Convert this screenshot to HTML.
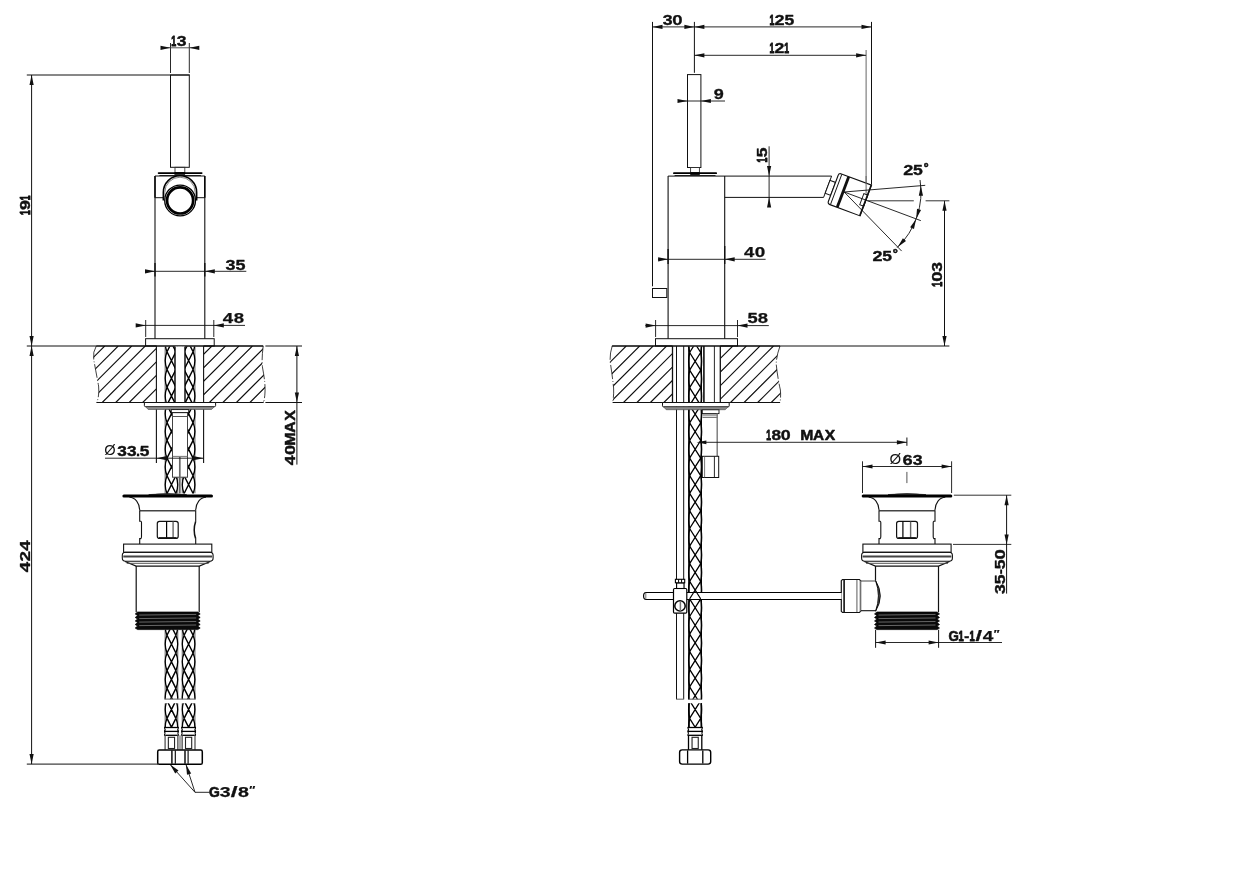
<!DOCTYPE html>
<html lang="it">
<head>
<meta charset="utf-8">
<title>Disegno tecnico</title>
<style>
html,body{margin:0;padding:0;background:#fff;}
body{width:1233px;height:884px;overflow:hidden;}
svg{display:block;}
.t{font-family:"Liberation Sans",Arial,Helvetica,sans-serif;fill:#111;stroke:#111;stroke-width:0.25px;stroke-linejoin:round;}
.tn{font-family:"Liberation Sans",Arial,Helvetica,sans-serif;fill:#111;}
svg{filter:grayscale(1);}
</style>
</head>
<body>
<svg width="1233" height="884" viewBox="0 0 1233 884">
<rect x="0" y="0" width="1233" height="884" fill="#fff"/>
<defs>
<clipPath id="h1"><path d="M96.3 346Q92.5 352 93.8 360Q96 372 98.6 386Q99.6 396 96.6 402.5H156.5V346Z"/></clipPath>
<clipPath id="h2"><path d="M203.6 346H263.2Q261.4 360 262.6 368Q265.6 384 265 392Q264.8 398 263.6 402.5H203.6Z"/></clipPath>
<clipPath id="h3"><rect x="163.6" y="346.5" width="15.7" height="56"/></clipPath>
<clipPath id="h4"><rect x="180.7" y="346.5" width="15.8" height="56"/></clipPath>
<clipPath id="h5"><rect x="163.6" y="409.6" width="15.7" height="84"/></clipPath>
<clipPath id="h6"><rect x="180.7" y="409.6" width="15.8" height="84"/></clipPath>
<clipPath id="h7"><rect x="163.6" y="629.6" width="15.7" height="69.7"/></clipPath>
<clipPath id="h8"><rect x="180.7" y="629.6" width="15.8" height="69.7"/></clipPath>
<clipPath id="h9"><rect x="163.6" y="703.2" width="15.7" height="24.3"/></clipPath>
<clipPath id="h10"><rect x="180.7" y="703.2" width="15.8" height="24.3"/></clipPath>
<clipPath id="h11"><path d="M612.2 346Q609.6 354 610.2 362Q612.4 376 613.6 388Q614 396 612.6 402.5H672.5V346Z"/></clipPath>
<clipPath id="h12"><path d="M720.3 346H780Q776.4 356 776.2 364Q777.6 378 780.4 390Q781 397 780 402.5H720.3Z"/></clipPath>
<clipPath id="h13"><rect x="687.4" y="346.5" width="15.5" height="352.9"/></clipPath>
<clipPath id="h14"><rect x="687.4" y="703.2" width="15.5" height="24.3"/></clipPath>
<clipPath id="h15"><rect x="687.4" y="593" width="15.5" height="6.2"/></clipPath>
</defs>
<line x1="26.8" y1="75" x2="189.6" y2="75" stroke="#111" stroke-width="1"/>
<line x1="26.8" y1="346" x2="263.2" y2="346" stroke="#111" stroke-width="1"/>
<line x1="265.4" y1="346" x2="302" y2="346" stroke="#111" stroke-width="1"/>
<line x1="26.8" y1="764.1" x2="158" y2="764.1" stroke="#111" stroke-width="1"/>
<line x1="31.6" y1="75" x2="31.6" y2="764.1" stroke="#111" stroke-width="1"/>
<polygon points="31.6,75 33.7,85 29.5,85" fill="#111" stroke="none" stroke-width="0"/>
<polygon points="31.6,346 29.5,336 33.7,336" fill="#111" stroke="none" stroke-width="0"/>
<polygon points="31.6,346 33.7,356 29.5,356" fill="#111" stroke="none" stroke-width="0"/>
<polygon points="31.6,764.1 29.5,754.1 33.7,754.1" fill="#111" stroke="none" stroke-width="0"/>
<text class="t" transform="translate(29.6 214.4) rotate(-90)" font-size="14.7" font-weight="bold"><tspan x="-0.54" y="0" textLength="4.8" lengthAdjust="spacingAndGlyphs" stroke-width="1.0" font-size="15.2">1</tspan><tspan x="4.51" y="0" textLength="9.82" lengthAdjust="spacingAndGlyphs" stroke-width="0.4" font-size="15.2">9</tspan><tspan x="14.24" y="0" textLength="4.8" lengthAdjust="spacingAndGlyphs" stroke-width="1.0" font-size="15.2">1</tspan></text>
<text class="t" transform="translate(29.6 571.9) rotate(-90)" font-size="14.7" font-weight="bold"><tspan x="-0.28" y="0" textLength="10.33" lengthAdjust="spacingAndGlyphs" stroke-width="0.34" font-size="15.2">4</tspan><tspan x="10.47" y="0" textLength="10.46" lengthAdjust="spacingAndGlyphs" stroke-width="0.32" font-size="15.2">2</tspan><tspan x="21.07" y="0" textLength="10.33" lengthAdjust="spacingAndGlyphs" stroke-width="0.34" font-size="15.2">4</tspan></text>
<line x1="170.5" y1="43" x2="170.5" y2="73" stroke="#111" stroke-width="0.9"/>
<line x1="189.3" y1="43" x2="189.3" y2="73" stroke="#111" stroke-width="0.9"/>
<line x1="161" y1="47.8" x2="199" y2="47.8" stroke="#444" stroke-width="0.9"/>
<polygon points="170.5,47.8 160.5,49.9 160.5,45.7" fill="#111" stroke="none" stroke-width="0"/>
<polygon points="189.3,47.8 199.3,45.7 199.3,49.9" fill="#111" stroke="none" stroke-width="0"/>
<text class="t" font-size="14.7" font-weight="bold"><tspan x="171.34" y="45.7" textLength="4.92" lengthAdjust="spacingAndGlyphs" stroke-width="1.0">1</tspan><tspan x="176.75" y="45.7" textLength="9.79" lengthAdjust="spacingAndGlyphs" stroke-width="0.36">3</tspan></text>
<rect x="170.5" y="75" width="18.8" height="92.3" fill="none" stroke="#111" stroke-width="1"/>
<rect x="175" y="167.3" width="9.8" height="5.2" fill="none" stroke="#333" stroke-width="0.9"/>
<line x1="158.6" y1="173.1" x2="201.7" y2="173.1" stroke="#000" stroke-width="1.7" stroke-linecap="round"/>
<line x1="159.4" y1="175.5" x2="200.9" y2="175.5" stroke="#111" stroke-width="0.9"/>
<rect x="174.4" y="172.4" width="10.7" height="2.4" fill="#000" stroke="none" stroke-width="0"/>
<line x1="155" y1="176" x2="155" y2="338.7" stroke="#111" stroke-width="1.1"/>
<line x1="204.8" y1="176" x2="204.8" y2="338.7" stroke="#111" stroke-width="1.1"/>
<line x1="155" y1="176" x2="155" y2="197.7" stroke="#000" stroke-width="1.4"/>
<line x1="204.8" y1="176" x2="204.8" y2="197.7" stroke="#000" stroke-width="1.4"/>
<line x1="155" y1="176" x2="204.8" y2="176" stroke="#111" stroke-width="1"/>
<line x1="155" y1="197.7" x2="163.6" y2="197.7" stroke="#111" stroke-width="1"/>
<line x1="196.5" y1="197.7" x2="204.8" y2="197.7" stroke="#111" stroke-width="1"/>
<path d="M163.3 200.4V192.4A16.7 16.7 0 0 1 196.7 192.4V200.4" fill="#fff" stroke="#000" stroke-width="1.5"/>
<path d="M164.8 197V192.4A15.2 15.2 0 0 1 195.2 192.4V197" fill="none" stroke="#333" stroke-width="0.6"/>
<circle cx="180.1" cy="200.45" r="15.4" fill="#fff" stroke="#000" stroke-width="1.3"/>
<circle cx="180.1" cy="200.45" r="13.05" fill="none" stroke="#000" stroke-width="2.7"/>
<line x1="145" y1="271.3" x2="246.3" y2="271.3" stroke="#111" stroke-width="0.9"/>
<polygon points="155,271.3 145,273.4 145,269.2" fill="#111" stroke="none" stroke-width="0"/>
<polygon points="204.8,271.3 214.8,269.2 214.8,273.4" fill="#111" stroke="none" stroke-width="0"/>
<line x1="155" y1="263" x2="155" y2="276.5" stroke="#111" stroke-width="1.4"/>
<line x1="204.8" y1="263" x2="204.8" y2="276.5" stroke="#111" stroke-width="1.4"/>
<text class="t" font-size="14.7" font-weight="bold"><tspan x="225.59" y="269.5" textLength="9.98" lengthAdjust="spacingAndGlyphs" stroke-width="0.34">3</tspan><tspan x="235.52" y="269.5" textLength="9.98" lengthAdjust="spacingAndGlyphs" stroke-width="0.34">5</tspan></text>
<line x1="136" y1="325.4" x2="245" y2="325.4" stroke="#111" stroke-width="0.9"/>
<polygon points="145.7,325.4 135.7,327.5 135.7,323.3" fill="#111" stroke="none" stroke-width="0"/>
<polygon points="213.8,325.4 223.8,323.3 223.8,327.5" fill="#111" stroke="none" stroke-width="0"/>
<line x1="145.7" y1="320" x2="145.7" y2="337" stroke="#111" stroke-width="0.9"/>
<line x1="213.8" y1="320" x2="213.8" y2="337" stroke="#111" stroke-width="0.9"/>
<text class="t" font-size="14.7" font-weight="bold"><tspan x="222.82" y="323.3" textLength="10.44" lengthAdjust="spacingAndGlyphs">4</tspan><tspan x="233.76" y="323.3" textLength="10.32" lengthAdjust="spacingAndGlyphs">8</tspan></text>
<rect x="145.6" y="338.7" width="68.6" height="7.3" fill="none" stroke="#111" stroke-width="1"/>
<path d="M48.2 402.5L104.7 346M61.7 402.5L118.2 346M75.2 402.5L131.7 346M88.7 402.5L145.2 346M102.2 402.5L158.7 346M115.7 402.5L172.2 346M129.2 402.5L185.7 346M142.7 402.5L199.2 346M156.2 402.5L212.7 346" fill="none" stroke="#111" stroke-width="1.1" clip-path="url(#h1)"/>
<path d="M96.3 346Q92.5 352 93.8 360Q96 372 98.6 386Q99.6 396 96.6 402.5" fill="none" stroke="#111" stroke-width="0.8" stroke-dasharray="14 2 1 2"/>
<path d="M155.4 402.5L211.9 346M168.9 402.5L225.4 346M182.4 402.5L238.9 346M195.9 402.5L252.4 346M209.4 402.5L265.9 346M222.9 402.5L279.4 346M236.4 402.5L292.9 346M249.9 402.5L306.4 346M263.4 402.5L319.9 346" fill="none" stroke="#111" stroke-width="1.1" clip-path="url(#h2)"/>
<path d="M263.2 346Q261.4 360 262.6 368Q265.6 384 265 392Q264.8 398 263.6 402.5" fill="none" stroke="#111" stroke-width="0.8" stroke-dasharray="14 2 1 2"/>
<line x1="96.6" y1="402.5" x2="263.6" y2="402.5" stroke="#111" stroke-width="1"/>
<line x1="265.4" y1="402.5" x2="302" y2="402.5" stroke="#111" stroke-width="1"/>
<line x1="96.3" y1="346" x2="156.5" y2="346" stroke="#000" stroke-width="1.2"/>
<line x1="203.6" y1="346" x2="263.2" y2="346" stroke="#000" stroke-width="1.2"/>
<line x1="296.9" y1="346" x2="296.9" y2="464.6" stroke="#111" stroke-width="1"/>
<polygon points="296.9,346 299,356 294.8,356" fill="#111" stroke="none" stroke-width="0"/>
<polygon points="296.9,402.5 294.8,392.5 299,392.5" fill="#111" stroke="none" stroke-width="0"/>
<text class="t" transform="translate(294.9 464.9) rotate(-90)" font-size="14.7" font-weight="bold"><tspan x="-0.26" y="0" textLength="9.81" lengthAdjust="spacingAndGlyphs" stroke-width="0.4" font-size="15.2">4</tspan><tspan x="9.85" y="0" textLength="10.07" lengthAdjust="spacingAndGlyphs" stroke-width="0.37" font-size="15.2">0</tspan><tspan x="19.22" y="0" textLength="13.32" lengthAdjust="spacingAndGlyphs" stroke-width="0.52" font-size="15.2">M</tspan><tspan x="32.19" y="0" textLength="11.29" lengthAdjust="spacingAndGlyphs" stroke-width="0.55" font-size="15.2">A</tspan><tspan x="44.04" y="0" textLength="10.6" lengthAdjust="spacingAndGlyphs" stroke-width="0.53" font-size="15.2">X</tspan></text>
<line x1="156.4" y1="346" x2="156.4" y2="463" stroke="#111" stroke-width="1.1"/>
<line x1="203.6" y1="346" x2="203.6" y2="463" stroke="#111" stroke-width="1.1"/>
<g clip-path="url(#h3)" fill="none" stroke="#000" stroke-width="1.45">
<path d="M165.2 346.5V402.5M177.7 346.5V402.5" stroke="#777" stroke-width="1.2"/>
<path d="M167 334.02L175.9 351.74M175.9 334.02L167 351.74M167 351.74L175.9 369.46M175.9 351.74L167 369.46M167 369.46L175.9 387.18M175.9 369.46L167 387.18M167 387.18L175.9 404.9M175.9 387.18L167 404.9M167 404.9L175.9 422.62M175.9 404.9L167 422.62M167 422.62L175.9 440.34M175.9 422.62L167 440.34M167 440.34L175.9 458.06M175.9 440.34L167 458.06"/>
<path d="M167 334.02Q163.4 342.88 167 351.74M175.9 334.02Q179.5 342.88 175.9 351.74M167 351.74Q163.4 360.6 167 369.46M175.9 351.74Q179.5 360.6 175.9 369.46M167 369.46Q163.4 378.32 167 387.18M175.9 369.46Q179.5 378.32 175.9 387.18M167 387.18Q163.4 396.04 167 404.9M175.9 387.18Q179.5 396.04 175.9 404.9M167 404.9Q163.4 413.76 167 422.62M175.9 404.9Q179.5 413.76 175.9 422.62M167 422.62Q163.4 431.48 167 440.34M175.9 422.62Q179.5 431.48 175.9 440.34M167 440.34Q163.4 449.2 167 458.06M175.9 440.34Q179.5 449.2 175.9 458.06" stroke-width="1.3"/>
</g>
<g clip-path="url(#h4)" fill="none" stroke="#000" stroke-width="1.45">
<path d="M182.3 346.5V402.5M194.9 346.5V402.5" stroke="#777" stroke-width="1.2"/>
<path d="M184.1 334.02L193.1 351.74M193.1 334.02L184.1 351.74M184.1 351.74L193.1 369.46M193.1 351.74L184.1 369.46M184.1 369.46L193.1 387.18M193.1 369.46L184.1 387.18M184.1 387.18L193.1 404.9M193.1 387.18L184.1 404.9M184.1 404.9L193.1 422.62M193.1 404.9L184.1 422.62M184.1 422.62L193.1 440.34M193.1 422.62L184.1 440.34M184.1 440.34L193.1 458.06M193.1 440.34L184.1 458.06"/>
<path d="M184.1 334.02Q180.5 342.88 184.1 351.74M193.1 334.02Q196.7 342.88 193.1 351.74M184.1 351.74Q180.5 360.6 184.1 369.46M193.1 351.74Q196.7 360.6 193.1 369.46M184.1 369.46Q180.5 378.32 184.1 387.18M193.1 369.46Q196.7 378.32 193.1 387.18M184.1 387.18Q180.5 396.04 184.1 404.9M193.1 387.18Q196.7 396.04 193.1 404.9M184.1 404.9Q180.5 413.76 184.1 422.62M193.1 404.9Q196.7 413.76 193.1 422.62M184.1 422.62Q180.5 431.48 184.1 440.34M193.1 422.62Q196.7 431.48 193.1 440.34M184.1 440.34Q180.5 449.2 184.1 458.06M193.1 440.34Q196.7 449.2 193.1 458.06" stroke-width="1.3"/>
</g>
<rect x="175" y="346.5" width="10" height="56" fill="#fff" stroke="none" stroke-width="0"/>
<line x1="175" y1="346.5" x2="175" y2="402.5" stroke="#000" stroke-width="1.4"/>
<line x1="185" y1="346.5" x2="185" y2="402.5" stroke="#000" stroke-width="1.4"/>
<path d="M144.4 402.5H215.6V405.6Q215.6 406.6 214.6 406.6H145.4Q144.4 406.6 144.4 405.6Z" fill="#fff" stroke="#111" stroke-width="1"/>
<polygon points="145.6,406.7 214.4,406.7 211.6,409.5 148.2,409.5" fill="#8a8a8a" stroke="#444" stroke-width="0.6"/>
<g clip-path="url(#h5)" fill="none" stroke="#000" stroke-width="1.45">
<path d="M165.2 409.6V493.6M177.7 409.6V493.6" stroke="#777" stroke-width="1.2"/>
<path d="M167 387.18L175.9 404.9M175.9 387.18L167 404.9M167 404.9L175.9 422.62M175.9 404.9L167 422.62M167 422.62L175.9 440.34M175.9 422.62L167 440.34M167 440.34L175.9 458.06M175.9 440.34L167 458.06M167 458.06L175.9 475.78M175.9 458.06L167 475.78M167 475.78L175.9 493.5M175.9 475.78L167 493.5M167 493.5L175.9 511.22M175.9 493.5L167 511.22M167 511.22L175.9 528.94M175.9 511.22L167 528.94M167 528.94L175.9 546.66M175.9 528.94L167 546.66"/>
<path d="M167 387.18Q163.4 396.04 167 404.9M175.9 387.18Q179.5 396.04 175.9 404.9M167 404.9Q163.4 413.76 167 422.62M175.9 404.9Q179.5 413.76 175.9 422.62M167 422.62Q163.4 431.48 167 440.34M175.9 422.62Q179.5 431.48 175.9 440.34M167 440.34Q163.4 449.2 167 458.06M175.9 440.34Q179.5 449.2 175.9 458.06M167 458.06Q163.4 466.92 167 475.78M175.9 458.06Q179.5 466.92 175.9 475.78M167 475.78Q163.4 484.64 167 493.5M175.9 475.78Q179.5 484.64 175.9 493.5M167 493.5Q163.4 502.36 167 511.22M175.9 493.5Q179.5 502.36 175.9 511.22M167 511.22Q163.4 520.08 167 528.94M175.9 511.22Q179.5 520.08 175.9 528.94M167 528.94Q163.4 537.8 167 546.66M175.9 528.94Q179.5 537.8 175.9 546.66" stroke-width="1.3"/>
</g>
<g clip-path="url(#h6)" fill="none" stroke="#000" stroke-width="1.45">
<path d="M182.3 409.6V493.6M194.9 409.6V493.6" stroke="#777" stroke-width="1.2"/>
<path d="M184.1 387.18L193.1 404.9M193.1 387.18L184.1 404.9M184.1 404.9L193.1 422.62M193.1 404.9L184.1 422.62M184.1 422.62L193.1 440.34M193.1 422.62L184.1 440.34M184.1 440.34L193.1 458.06M193.1 440.34L184.1 458.06M184.1 458.06L193.1 475.78M193.1 458.06L184.1 475.78M184.1 475.78L193.1 493.5M193.1 475.78L184.1 493.5M184.1 493.5L193.1 511.22M193.1 493.5L184.1 511.22M184.1 511.22L193.1 528.94M193.1 511.22L184.1 528.94M184.1 528.94L193.1 546.66M193.1 528.94L184.1 546.66"/>
<path d="M184.1 387.18Q180.5 396.04 184.1 404.9M193.1 387.18Q196.7 396.04 193.1 404.9M184.1 404.9Q180.5 413.76 184.1 422.62M193.1 404.9Q196.7 413.76 193.1 422.62M184.1 422.62Q180.5 431.48 184.1 440.34M193.1 422.62Q196.7 431.48 193.1 440.34M184.1 440.34Q180.5 449.2 184.1 458.06M193.1 440.34Q196.7 449.2 193.1 458.06M184.1 458.06Q180.5 466.92 184.1 475.78M193.1 458.06Q196.7 466.92 193.1 475.78M184.1 475.78Q180.5 484.64 184.1 493.5M193.1 475.78Q196.7 484.64 193.1 493.5M184.1 493.5Q180.5 502.36 184.1 511.22M193.1 493.5Q196.7 502.36 193.1 511.22M184.1 511.22Q180.5 520.08 184.1 528.94M193.1 511.22Q196.7 520.08 193.1 528.94M184.1 528.94Q180.5 537.8 184.1 546.66M193.1 528.94Q196.7 537.8 193.1 546.66" stroke-width="1.3"/>
</g>
<rect x="172.5" y="412.6" width="15" height="64.6" fill="#fff" stroke="#444" stroke-width="1"/>
<rect x="171.3" y="409.6" width="17.4" height="3" fill="#fff" stroke="#111" stroke-width="0.9"/>
<line x1="172.5" y1="416.5" x2="187.5" y2="416.5" stroke="#555" stroke-width="1"/>
<line x1="172.5" y1="456.4" x2="187.5" y2="456.4" stroke="#666" stroke-width="0.9"/>
<line x1="179.8" y1="457" x2="179.8" y2="493.4" stroke="#666" stroke-width="1.7"/>
<line x1="105" y1="458.2" x2="203.6" y2="458.2" stroke="#111" stroke-width="0.9"/>
<polygon points="156.4,458.2 166.9,456.1 166.9,460.3" fill="#111" stroke="none" stroke-width="0"/>
<polygon points="203.6,458.2 193.1,460.3 193.1,456.1" fill="#111" stroke="none" stroke-width="0"/>
<text class="t" font-size="14.7" font-weight="bold"><tspan x="104.29" y="455" textLength="11.41" lengthAdjust="spacingAndGlyphs" font-weight="normal" stroke-width="0" font-size="14.4">&#216;</tspan><tspan x="117.2" y="455.8" textLength="9.62" lengthAdjust="spacingAndGlyphs" stroke-width="0.39">3</tspan><tspan x="126.91" y="455.8" textLength="9.62" lengthAdjust="spacingAndGlyphs" stroke-width="0.39">3</tspan><tspan x="136.03" y="455.8" textLength="4.06" lengthAdjust="spacingAndGlyphs">.</tspan><tspan x="139.67" y="455.8" textLength="9.62" lengthAdjust="spacingAndGlyphs" stroke-width="0.39">5</tspan></text>
<line x1="123.9" y1="495.9" x2="211.5" y2="495.9" stroke="#000" stroke-width="3" stroke-linecap="round"/>
<path d="M148.7 494.6Q167.7 492.4 186.7 494.6Z" fill="#000" stroke="#000" stroke-width="0.5"/>
<path d="M129.4 497.3A10.3 13.2 0 0 1 139.7 510.6" fill="none" stroke="#111" stroke-width="1.1"/>
<path d="M206 497.3A10.3 13.2 0 0 0 195.7 510.6" fill="none" stroke="#111" stroke-width="1.1"/>
<line x1="139.7" y1="510.75" x2="195.7" y2="510.75" stroke="#444" stroke-width="1.3"/>
<path d="M139.7 510.6V521.2H140.9Q141.5 521.4 141.5 522.6V536.6Q141.5 538.2 140.9 538.6H139.7V544" fill="none" stroke="#111" stroke-width="1.1"/>
<path d="M195.7 510.6V521.2" fill="none" stroke="#111" stroke-width="1.1"/>
<path d="M195.7 521.2Q192.7 530 195.7 538.8" fill="none" stroke="#111" stroke-width="1.5"/>
<path d="M195.7 538.8V544" fill="none" stroke="#111" stroke-width="1.1"/>
<rect x="157.3" y="521.3" width="20.9" height="17.2" rx="2.2" fill="none" stroke="#111" stroke-width="1.2"/>
<line x1="166.6" y1="521.6" x2="166.6" y2="538.2" stroke="#000" stroke-width="1.2"/>
<line x1="173.1" y1="521.6" x2="173.1" y2="538.2" stroke="#666" stroke-width="1.4"/>
<line x1="158.9" y1="537.7" x2="176.6" y2="537.7" stroke="#111" stroke-width="1.2"/>
<rect x="123.6" y="544.1" width="88.2" height="8.2" fill="none" stroke="#111" stroke-width="1.1"/>
<rect x="122.3" y="552.3" width="90.8" height="8.9" rx="3.2" fill="none" stroke="#111" stroke-width="1.1"/>
<line x1="123.3" y1="556.5" x2="212.1" y2="556.5" stroke="#444" stroke-width="2"/>
<path d="M125.1 561.6L136.1 566.1H199.3L210.3 561.6" fill="none" stroke="#111" stroke-width="1.1"/>
<line x1="126.7" y1="563.3" x2="208.7" y2="563.3" stroke="#444" stroke-width="0.9"/>
<line x1="136.2" y1="566.1" x2="136.2" y2="612.2" stroke="#111" stroke-width="1.2"/>
<line x1="199.2" y1="566.1" x2="199.2" y2="612.2" stroke="#111" stroke-width="1.2"/>
<path d="M137.6 612L135.2 613.94L137.6 615.52L135.2 617.46L137.6 619.04L135.2 620.98L137.6 622.56L135.2 624.5L137.6 626.08L135.2 628.02L137.6 629.6L197.8 629.6L200.2 628.02L197.8 626.08L200.2 624.5L197.8 622.56L200.2 620.98L197.8 619.04L200.2 617.46L197.8 615.52L200.2 613.94L197.8 612Z" fill="#0a0a0a" stroke="#000" stroke-width="0.7" stroke-linejoin="round"/>
<line x1="139.2" y1="615.05" x2="196.2" y2="614.45" stroke="#858585" stroke-width="0.75"/>
<line x1="139.2" y1="618.57" x2="196.2" y2="617.97" stroke="#858585" stroke-width="0.75"/>
<line x1="139.2" y1="622.09" x2="196.2" y2="621.49" stroke="#858585" stroke-width="0.75"/>
<line x1="139.2" y1="625.61" x2="196.2" y2="625.01" stroke="#858585" stroke-width="0.75"/>
<g clip-path="url(#h7)" fill="none" stroke="#000" stroke-width="1.45">
<path d="M165.2 629.6V699.3M177.7 629.6V699.3" stroke="#777" stroke-width="1.2"/>
<path d="M167 617.54L175.9 635.26M175.9 617.54L167 635.26M167 635.26L175.9 652.98M175.9 635.26L167 652.98M167 652.98L175.9 670.7M175.9 652.98L167 670.7M167 670.7L175.9 688.42M175.9 670.7L167 688.42M167 688.42L175.9 706.14M175.9 688.42L167 706.14M167 706.14L175.9 723.86M175.9 706.14L167 723.86M167 723.86L175.9 741.58M175.9 723.86L167 741.58M167 741.58L175.9 759.3M175.9 741.58L167 759.3"/>
<path d="M167 617.54Q163.4 626.4 167 635.26M175.9 617.54Q179.5 626.4 175.9 635.26M167 635.26Q163.4 644.12 167 652.98M175.9 635.26Q179.5 644.12 175.9 652.98M167 652.98Q163.4 661.84 167 670.7M175.9 652.98Q179.5 661.84 175.9 670.7M167 670.7Q163.4 679.56 167 688.42M175.9 670.7Q179.5 679.56 175.9 688.42M167 688.42Q163.4 697.28 167 706.14M175.9 688.42Q179.5 697.28 175.9 706.14M167 706.14Q163.4 715 167 723.86M175.9 706.14Q179.5 715 175.9 723.86M167 723.86Q163.4 732.72 167 741.58M175.9 723.86Q179.5 732.72 175.9 741.58M167 741.58Q163.4 750.44 167 759.3M175.9 741.58Q179.5 750.44 175.9 759.3" stroke-width="1.3"/>
</g>
<g clip-path="url(#h8)" fill="none" stroke="#000" stroke-width="1.45">
<path d="M182.3 629.6V699.3M194.9 629.6V699.3" stroke="#777" stroke-width="1.2"/>
<path d="M184.1 617.54L193.1 635.26M193.1 617.54L184.1 635.26M184.1 635.26L193.1 652.98M193.1 635.26L184.1 652.98M184.1 652.98L193.1 670.7M193.1 652.98L184.1 670.7M184.1 670.7L193.1 688.42M193.1 670.7L184.1 688.42M184.1 688.42L193.1 706.14M193.1 688.42L184.1 706.14M184.1 706.14L193.1 723.86M193.1 706.14L184.1 723.86M184.1 723.86L193.1 741.58M193.1 723.86L184.1 741.58M184.1 741.58L193.1 759.3M193.1 741.58L184.1 759.3"/>
<path d="M184.1 617.54Q180.5 626.4 184.1 635.26M193.1 617.54Q196.7 626.4 193.1 635.26M184.1 635.26Q180.5 644.12 184.1 652.98M193.1 635.26Q196.7 644.12 193.1 652.98M184.1 652.98Q180.5 661.84 184.1 670.7M193.1 652.98Q196.7 661.84 193.1 670.7M184.1 670.7Q180.5 679.56 184.1 688.42M193.1 670.7Q196.7 679.56 193.1 688.42M184.1 688.42Q180.5 697.28 184.1 706.14M193.1 688.42Q196.7 697.28 193.1 706.14M184.1 706.14Q180.5 715 184.1 723.86M193.1 706.14Q196.7 715 193.1 723.86M184.1 723.86Q180.5 732.72 184.1 741.58M193.1 723.86Q196.7 732.72 193.1 741.58M184.1 741.58Q180.5 750.44 184.1 759.3M193.1 741.58Q196.7 750.44 193.1 759.3" stroke-width="1.3"/>
</g>
<line x1="164.4" y1="699.1" x2="195.7" y2="699.1" stroke="#777" stroke-width="1.2"/>
<g clip-path="url(#h9)" fill="none" stroke="#000" stroke-width="1.45">
<path d="M165.2 703.2V727.5M177.7 703.2V727.5" stroke="#777" stroke-width="1.2"/>
<path d="M167 682.92L175.9 700.64M175.9 682.92L167 700.64M167 700.64L175.9 718.36M175.9 700.64L167 718.36M167 718.36L175.9 736.08M175.9 718.36L167 736.08M167 736.08L175.9 753.8M175.9 736.08L167 753.8M167 753.8L175.9 771.52M175.9 753.8L167 771.52M167 771.52L175.9 789.24M175.9 771.52L167 789.24"/>
<path d="M167 682.92Q163.4 691.78 167 700.64M175.9 682.92Q179.5 691.78 175.9 700.64M167 700.64Q163.4 709.5 167 718.36M175.9 700.64Q179.5 709.5 175.9 718.36M167 718.36Q163.4 727.22 167 736.08M175.9 718.36Q179.5 727.22 175.9 736.08M167 736.08Q163.4 744.94 167 753.8M175.9 736.08Q179.5 744.94 175.9 753.8M167 753.8Q163.4 762.66 167 771.52M175.9 753.8Q179.5 762.66 175.9 771.52M167 771.52Q163.4 780.38 167 789.24M175.9 771.52Q179.5 780.38 175.9 789.24" stroke-width="1.3"/>
</g>
<g clip-path="url(#h10)" fill="none" stroke="#000" stroke-width="1.45">
<path d="M182.3 703.2V727.5M194.9 703.2V727.5" stroke="#777" stroke-width="1.2"/>
<path d="M184.1 682.92L193.1 700.64M193.1 682.92L184.1 700.64M184.1 700.64L193.1 718.36M193.1 700.64L184.1 718.36M184.1 718.36L193.1 736.08M193.1 718.36L184.1 736.08M184.1 736.08L193.1 753.8M193.1 736.08L184.1 753.8M184.1 753.8L193.1 771.52M193.1 753.8L184.1 771.52M184.1 771.52L193.1 789.24M193.1 771.52L184.1 789.24"/>
<path d="M184.1 682.92Q180.5 691.78 184.1 700.64M193.1 682.92Q196.7 691.78 193.1 700.64M184.1 700.64Q180.5 709.5 184.1 718.36M193.1 700.64Q196.7 709.5 193.1 718.36M184.1 718.36Q180.5 727.22 184.1 736.08M193.1 718.36Q196.7 727.22 193.1 736.08M184.1 736.08Q180.5 744.94 184.1 753.8M193.1 736.08Q196.7 744.94 193.1 753.8M184.1 753.8Q180.5 762.66 184.1 771.52M193.1 753.8Q196.7 762.66 193.1 771.52M184.1 771.52Q180.5 780.38 184.1 789.24M193.1 771.52Q196.7 780.38 193.1 789.24" stroke-width="1.3"/>
</g>
<line x1="164.1" y1="727.5" x2="178.8" y2="727.5" stroke="#000" stroke-width="1.3"/>
<line x1="164.1" y1="731.4" x2="178.8" y2="731.4" stroke="#000" stroke-width="1.3"/>
<line x1="164.1" y1="735.3" x2="178.8" y2="735.3" stroke="#000" stroke-width="1.3"/>
<path d="M164.4 727.5Q165.8 729.45 164.4 731.4M178.5 727.5Q177.1 729.45 178.5 731.4" fill="none" stroke="#000" stroke-width="1.1"/>
<path d="M164.4 731.4Q165.8 733.35 164.4 735.3M178.5 731.4Q177.1 733.35 178.5 735.3" fill="none" stroke="#000" stroke-width="1.1"/>
<line x1="165.1" y1="735.3" x2="165.1" y2="749.8" stroke="#555" stroke-width="1.3"/>
<line x1="177.8" y1="735.3" x2="177.8" y2="749.8" stroke="#555" stroke-width="1.3"/>
<rect x="168.35" y="737.3" width="6.2" height="11.2" fill="none" stroke="#222" stroke-width="1.1"/>
<line x1="181.2" y1="727.5" x2="196" y2="727.5" stroke="#000" stroke-width="1.3"/>
<line x1="181.2" y1="731.4" x2="196" y2="731.4" stroke="#000" stroke-width="1.3"/>
<line x1="181.2" y1="735.3" x2="196" y2="735.3" stroke="#000" stroke-width="1.3"/>
<path d="M181.5 727.5Q182.9 729.45 181.5 731.4M195.7 727.5Q194.3 729.45 195.7 731.4" fill="none" stroke="#000" stroke-width="1.1"/>
<path d="M181.5 731.4Q182.9 733.35 181.5 735.3M195.7 731.4Q194.3 733.35 195.7 735.3" fill="none" stroke="#000" stroke-width="1.1"/>
<line x1="182.2" y1="735.3" x2="182.2" y2="749.8" stroke="#555" stroke-width="1.3"/>
<line x1="195" y1="735.3" x2="195" y2="749.8" stroke="#555" stroke-width="1.3"/>
<rect x="185.5" y="737.3" width="6.2" height="11.2" fill="none" stroke="#222" stroke-width="1.1"/>
<line x1="179.2" y1="735.3" x2="179.2" y2="749.8" stroke="#777" stroke-width="0.9"/>
<line x1="180.8" y1="735.3" x2="180.8" y2="749.8" stroke="#777" stroke-width="0.9"/>
<rect x="157.7" y="750.1" width="44.6" height="14.2" rx="1.6" fill="#fff" stroke="#000" stroke-width="1.5"/>
<line x1="171.9" y1="750.6" x2="171.9" y2="763.8" stroke="#000" stroke-width="1.4"/>
<line x1="175.3" y1="750.6" x2="175.3" y2="763.8" stroke="#000" stroke-width="1.1"/>
<line x1="185" y1="750.6" x2="185" y2="763.8" stroke="#000" stroke-width="1.4"/>
<line x1="188.1" y1="750.6" x2="188.1" y2="763.8" stroke="#000" stroke-width="1.1"/>
<line x1="195" y1="792.3" x2="170.2" y2="764.6" stroke="#111" stroke-width="0.9"/>
<line x1="195" y1="792.3" x2="186" y2="764.6" stroke="#111" stroke-width="0.9"/>
<polygon points="170.2,764.6 178.51,770.58 175.23,773.52" fill="#111" stroke="none" stroke-width="0"/>
<polygon points="186,764.6 191.18,773.43 187,774.79" fill="#111" stroke="none" stroke-width="0"/>
<line x1="195" y1="792.3" x2="209.6" y2="792.3" stroke="#111" stroke-width="0.9"/>
<text class="t" font-size="14.7" font-weight="bold"><tspan x="209.03" y="797.1" textLength="10.8" lengthAdjust="spacingAndGlyphs" stroke-width="0.64">G</tspan><tspan x="219.78" y="797.1" textLength="10.81" lengthAdjust="spacingAndGlyphs">3</tspan><tspan x="230.89" y="797.1" textLength="6.86" lengthAdjust="spacingAndGlyphs">/</tspan><tspan x="238.14" y="797.1" textLength="10.9" lengthAdjust="spacingAndGlyphs">8</tspan><tspan x="249.15" y="794.16" textLength="6.07" lengthAdjust="spacingAndGlyphs" font-size="10.73">&#8243;</tspan></text>
<line x1="652.5" y1="21.9" x2="652.5" y2="286.3" stroke="#111" stroke-width="1"/>
<line x1="694.4" y1="21.9" x2="694.4" y2="72.8" stroke="#111" stroke-width="1"/>
<line x1="871.5" y1="21.9" x2="871.5" y2="184.6" stroke="#111" stroke-width="1"/>
<line x1="866.1" y1="50" x2="866.1" y2="193.8" stroke="#666" stroke-width="1"/>
<line x1="652.5" y1="26.9" x2="871.5" y2="26.9" stroke="#111" stroke-width="0.9"/>
<polygon points="652.5,26.9 662.5,24.8 662.5,29" fill="#111" stroke="none" stroke-width="0"/>
<polygon points="694.4,26.9 684.4,29 684.4,24.8" fill="#111" stroke="none" stroke-width="0"/>
<polygon points="694.4,26.9 704.4,24.8 704.4,29" fill="#111" stroke="none" stroke-width="0"/>
<polygon points="871.5,26.9 861.5,29 861.5,24.8" fill="#111" stroke="none" stroke-width="0"/>
<text class="t" font-size="14.7" font-weight="bold"><tspan x="662.69" y="24.6" textLength="9.88" lengthAdjust="spacingAndGlyphs" stroke-width="0.35">3</tspan><tspan x="672.33" y="24.6" textLength="10.34" lengthAdjust="spacingAndGlyphs">0</tspan></text>
<text class="t" font-size="14.7" font-weight="bold"><tspan x="769.44" y="24.6" textLength="4.9" lengthAdjust="spacingAndGlyphs" stroke-width="1.0">1</tspan><tspan x="774.6" y="24.6" textLength="10.08" lengthAdjust="spacingAndGlyphs" stroke-width="0.32">2</tspan><tspan x="784.54" y="24.6" textLength="9.76" lengthAdjust="spacingAndGlyphs" stroke-width="0.37">5</tspan></text>
<line x1="694.4" y1="55.3" x2="866.1" y2="55.3" stroke="#111" stroke-width="0.9"/>
<polygon points="694.4,55.3 704.4,53.2 704.4,57.4" fill="#111" stroke="none" stroke-width="0"/>
<polygon points="866.1,55.3 856.1,57.4 856.1,53.2" fill="#111" stroke="none" stroke-width="0"/>
<text class="t" font-size="14.7" font-weight="bold"><tspan x="769.46" y="53" textLength="4.8" lengthAdjust="spacingAndGlyphs" stroke-width="1.0">1</tspan><tspan x="774.51" y="53" textLength="9.88" lengthAdjust="spacingAndGlyphs" stroke-width="0.35">2</tspan><tspan x="784.24" y="53" textLength="4.8" lengthAdjust="spacingAndGlyphs" stroke-width="1.0">1</tspan></text>
<rect x="687.5" y="74.6" width="13.4" height="92.9" fill="none" stroke="#111" stroke-width="1"/>
<rect x="690.6" y="167.5" width="8.8" height="5.1" fill="none" stroke="#333" stroke-width="0.9"/>
<line x1="673.9" y1="173.2" x2="716.2" y2="173.2" stroke="#000" stroke-width="1.7" stroke-linecap="round"/>
<line x1="674.6" y1="175.5" x2="715.5" y2="175.5" stroke="#111" stroke-width="0.9"/>
<rect x="690.2" y="172.5" width="9.6" height="2.4" fill="#000" stroke="none" stroke-width="0"/>
<line x1="678.1" y1="101" x2="725" y2="101" stroke="#111" stroke-width="0.9"/>
<polygon points="687.5,101 677.5,103.1 677.5,98.9" fill="#111" stroke="none" stroke-width="0"/>
<polygon points="700.9,101 710.9,98.9 710.9,103.1" fill="#111" stroke="none" stroke-width="0"/>
<text class="t" font-size="14.7" font-weight="bold"><tspan x="713.77" y="98.9" textLength="10" lengthAdjust="spacingAndGlyphs" stroke-width="0.33">9</tspan></text>
<line x1="668.1" y1="176.1" x2="668.1" y2="338.7" stroke="#111" stroke-width="1.1"/>
<line x1="724.7" y1="176.1" x2="724.7" y2="338.7" stroke="#111" stroke-width="1.1"/>
<line x1="668.1" y1="176.1" x2="831.6" y2="176.1" stroke="#111" stroke-width="1"/>
<line x1="724.7" y1="197.4" x2="823.6" y2="197.4" stroke="#111" stroke-width="1"/>
<line x1="831.6" y1="176.1" x2="823.6" y2="197.4" stroke="#111" stroke-width="1"/>
<line x1="769.1" y1="146.3" x2="769.1" y2="207" stroke="#111" stroke-width="0.9"/>
<polygon points="769.1,176.1 767,166.1 771.2,166.1" fill="#111" stroke="none" stroke-width="0"/>
<polygon points="769.1,197.4 771.2,207.4 767,207.4" fill="#111" stroke="none" stroke-width="0"/>
<text class="t" transform="translate(766.5 161.9) rotate(-90)" font-size="14.7" font-weight="bold"><tspan x="-0.55" y="0" textLength="4.85" lengthAdjust="spacingAndGlyphs" stroke-width="1.0" font-size="15.2">1</tspan><tspan x="4.64" y="0" textLength="9.65" lengthAdjust="spacingAndGlyphs" stroke-width="0.42" font-size="15.2">5</tspan></text>
<line x1="658.1" y1="259.3" x2="765.6" y2="259.3" stroke="#111" stroke-width="0.9"/>
<polygon points="668.1,259.3 658.1,261.4 658.1,257.2" fill="#111" stroke="none" stroke-width="0"/>
<polygon points="724.7,259.3 734.7,257.2 734.7,261.4" fill="#111" stroke="none" stroke-width="0"/>
<line x1="668.1" y1="249" x2="668.1" y2="264" stroke="#111" stroke-width="1.4"/>
<line x1="724.7" y1="246" x2="724.7" y2="264" stroke="#111" stroke-width="1.4"/>
<text class="t" font-size="14.7" font-weight="bold"><tspan x="744.12" y="257.1" textLength="10.24" lengthAdjust="spacingAndGlyphs">4</tspan><tspan x="754.68" y="257.1" textLength="10.5" lengthAdjust="spacingAndGlyphs">0</tspan></text>
<rect x="652.5" y="288.5" width="14.3" height="9" fill="none" stroke="#111" stroke-width="1"/>
<line x1="645.3" y1="325.6" x2="768.8" y2="325.6" stroke="#111" stroke-width="0.9"/>
<polygon points="655.6,325.6 645.6,327.7 645.6,323.5" fill="#111" stroke="none" stroke-width="0"/>
<polygon points="737.5,325.6 747.5,323.5 747.5,327.7" fill="#111" stroke="none" stroke-width="0"/>
<line x1="655.6" y1="320" x2="655.6" y2="337" stroke="#111" stroke-width="0.9"/>
<line x1="737.5" y1="320" x2="737.5" y2="337" stroke="#111" stroke-width="0.9"/>
<text class="t" font-size="14.7" font-weight="bold"><tspan x="747.53" y="323.3" textLength="10.19" lengthAdjust="spacingAndGlyphs" stroke-width="0.31">5</tspan><tspan x="757.8" y="323.3" textLength="10.28" lengthAdjust="spacingAndGlyphs">8</tspan></text>
<rect x="655.5" y="338.7" width="82" height="7.3" fill="none" stroke="#111" stroke-width="1"/>
<line x1="611.9" y1="346" x2="949.4" y2="346" stroke="#111" stroke-width="1"/>
<line x1="944.5" y1="200.8" x2="944.5" y2="346" stroke="#111" stroke-width="1"/>
<polygon points="944.5,200.8 946.6,210.8 942.4,210.8" fill="#111" stroke="none" stroke-width="0"/>
<polygon points="944.5,346 942.4,336 946.6,336" fill="#111" stroke="none" stroke-width="0"/>
<text class="t" transform="translate(942.1 286.3) rotate(-90)" font-size="14.7" font-weight="bold"><tspan x="-0.56" y="0" textLength="4.9" lengthAdjust="spacingAndGlyphs" stroke-width="1.0" font-size="15.2">1</tspan><tspan x="4.5" y="0" textLength="10.21" lengthAdjust="spacingAndGlyphs" stroke-width="0.35" font-size="15.2">0</tspan><tspan x="14.68" y="0" textLength="9.76" lengthAdjust="spacingAndGlyphs" stroke-width="0.41" font-size="15.2">3</tspan></text>
<line x1="867.5" y1="200.8" x2="913.8" y2="200.8" stroke="#333" stroke-width="1"/>
<line x1="925.6" y1="200.8" x2="949.4" y2="200.8" stroke="#333" stroke-width="1"/>
<g transform="translate(839 173) rotate(20.5)">
<rect x="-5.9" y="10" width="5.9" height="13.8" fill="#fff" stroke="#111" stroke-width="1"/>
<path d="M2.6 0H34.8V32.8H2.6Q0 32.8 0 30.2V2.6Q0 0 2.6 0Z" fill="#fff" stroke="#111" stroke-width="1.1"/>
<line x1="3.1" y1="0.3" x2="3.1" y2="32.5" stroke="#111" stroke-width="0.9"/>
<rect x="9" y="0" width="2.8" height="32.8" fill="#111"/>
<rect x="30.5" y="10.6" width="4.3" height="11.8" fill="none" stroke="#111" stroke-width="0.9"/>
<line x1="34.4" y1="0" x2="34.4" y2="32.8" stroke="#111" stroke-width="1.5"/>
</g>
<line x1="866.1" y1="176" x2="866.1" y2="193.8" stroke="#666" stroke-width="1"/>
<line x1="844.2" y1="192" x2="925.23" y2="185.34" stroke="#111" stroke-width="0.9"/>
<line x1="844.2" y1="192" x2="920.82" y2="220.65" stroke="#111" stroke-width="0.9"/>
<line x1="844.2" y1="192" x2="901.65" y2="251.07" stroke="#111" stroke-width="0.9"/>
<path d="M920.05 179.99A76.8 76.8 0 0 1 897.16 247.62" fill="none" stroke="#111" stroke-width="0.9"/>
<polygon points="920.74,185.71 923.02,195.67 918.82,195.74" fill="#111" stroke="none" stroke-width="0"/>
<polygon points="916.14,218.9 917.02,208.72 921.04,209.93" fill="#111" stroke="none" stroke-width="0"/>
<polygon points="916.14,218.9 913.96,228.88 910.13,227.16" fill="#111" stroke="none" stroke-width="0"/>
<polygon points="897.74,247.06 902.9,238.24 906.01,241.05" fill="#111" stroke="none" stroke-width="0"/>
<text class="t" font-size="14.7" font-weight="bold"><tspan x="903.16" y="175.2" textLength="10.1" lengthAdjust="spacingAndGlyphs" stroke-width="0.32">2</tspan><tspan x="913.12" y="175.2" textLength="9.77" lengthAdjust="spacingAndGlyphs" stroke-width="0.37">5</tspan><tspan x="923.87" y="172.2" textLength="4.86" lengthAdjust="spacingAndGlyphs" stroke-width="0.65" font-size="13">&#176;</tspan></text>
<text class="t" font-size="14.7" font-weight="bold"><tspan x="872.47" y="261.4" textLength="10.04" lengthAdjust="spacingAndGlyphs" stroke-width="0.33">2</tspan><tspan x="882.37" y="261.4" textLength="9.72" lengthAdjust="spacingAndGlyphs" stroke-width="0.37">5</tspan><tspan x="892.64" y="258" textLength="5.11" lengthAdjust="spacingAndGlyphs" stroke-width="0.6" font-size="13">&#176;</tspan></text>
<path d="M569.7 402.5L626.2 346M583.15 402.5L639.65 346M596.6 402.5L653.1 346M610.05 402.5L666.55 346M623.5 402.5L680 346M636.95 402.5L693.45 346M650.4 402.5L706.9 346M663.85 402.5L720.35 346M677.3 402.5L733.8 346" fill="none" stroke="#111" stroke-width="1.1" clip-path="url(#h11)"/>
<path d="M612.2 346Q609.6 354 610.2 362Q612.4 376 613.6 388Q614 396 612.6 402.5" fill="none" stroke="#111" stroke-width="0.8" stroke-dasharray="14 2 1 2"/>
<path d="M676.3 402.5L732.8 346M689.86 402.5L746.36 346M703.42 402.5L759.92 346M716.98 402.5L773.48 346M730.54 402.5L787.04 346M744.1 402.5L800.6 346M757.66 402.5L814.16 346M771.22 402.5L827.72 346M784.78 402.5L841.28 346" fill="none" stroke="#111" stroke-width="1.1" clip-path="url(#h12)"/>
<path d="M780 346Q776.4 356 776.2 364Q777.6 378 780.4 390Q781 397 780 402.5" fill="none" stroke="#111" stroke-width="0.8" stroke-dasharray="14 2 1 2"/>
<line x1="612.6" y1="402.5" x2="780" y2="402.5" stroke="#111" stroke-width="1"/>
<line x1="612.2" y1="346" x2="672.5" y2="346" stroke="#000" stroke-width="1.2"/>
<line x1="720.3" y1="346" x2="780" y2="346" stroke="#000" stroke-width="1.2"/>
<line x1="672.5" y1="346" x2="672.5" y2="402.5" stroke="#111" stroke-width="1.3"/>
<line x1="720.3" y1="346" x2="720.3" y2="402.5" stroke="#111" stroke-width="1.3"/>
<line x1="714.4" y1="346" x2="714.4" y2="402.5" stroke="#111" stroke-width="0.9"/>
<line x1="703.9" y1="346" x2="703.9" y2="402.5" stroke="#111" stroke-width="1.6"/>
<line x1="676.5" y1="346" x2="676.5" y2="699.4" stroke="#111" stroke-width="1"/>
<line x1="683.7" y1="346" x2="683.7" y2="699.4" stroke="#111" stroke-width="1"/>
<line x1="676.5" y1="699.2" x2="683.7" y2="699.2" stroke="#777" stroke-width="1.2"/>
<g clip-path="url(#h13)" fill="none" stroke="#000" stroke-width="1.3">
<path d="M689 346.5V699.4M701.3 346.5V699.4" stroke="#777" stroke-width="1.2"/>
<path d="M689.6 334.9L700.7 352.5M700.7 334.9L689.6 352.5M689.6 352.5L700.7 370.1M700.7 352.5L689.6 370.1M689.6 370.1L700.7 387.7M700.7 370.1L689.6 387.7M689.6 387.7L700.7 405.3M700.7 387.7L689.6 405.3M689.6 405.3L700.7 422.9M700.7 405.3L689.6 422.9M689.6 422.9L700.7 440.5M700.7 422.9L689.6 440.5M689.6 440.5L700.7 458.1M700.7 440.5L689.6 458.1M689.6 458.1L700.7 475.7M700.7 458.1L689.6 475.7M689.6 475.7L700.7 493.3M700.7 475.7L689.6 493.3M689.6 493.3L700.7 510.9M700.7 493.3L689.6 510.9M689.6 510.9L700.7 528.5M700.7 510.9L689.6 528.5M689.6 528.5L700.7 546.1M700.7 528.5L689.6 546.1M689.6 546.1L700.7 563.7M700.7 546.1L689.6 563.7M689.6 563.7L700.7 581.3M700.7 563.7L689.6 581.3M689.6 581.3L700.7 598.9M700.7 581.3L689.6 598.9M689.6 598.9L700.7 616.5M700.7 598.9L689.6 616.5M689.6 616.5L700.7 634.1M700.7 616.5L689.6 634.1M689.6 634.1L700.7 651.7M700.7 634.1L689.6 651.7M689.6 651.7L700.7 669.3M700.7 651.7L689.6 669.3M689.6 669.3L700.7 686.9M700.7 669.3L689.6 686.9M689.6 686.9L700.7 704.5M700.7 686.9L689.6 704.5M689.6 704.5L700.7 722.1M700.7 704.5L689.6 722.1M689.6 722.1L700.7 739.7M700.7 722.1L689.6 739.7M689.6 739.7L700.7 757.3M700.7 739.7L689.6 757.3"/>
<path d="M689.6 334.9Q687.8 343.7 689.6 352.5M700.7 334.9Q702.5 343.7 700.7 352.5M689.6 352.5Q687.8 361.3 689.6 370.1M700.7 352.5Q702.5 361.3 700.7 370.1M689.6 370.1Q687.8 378.9 689.6 387.7M700.7 370.1Q702.5 378.9 700.7 387.7M689.6 387.7Q687.8 396.5 689.6 405.3M700.7 387.7Q702.5 396.5 700.7 405.3M689.6 405.3Q687.8 414.1 689.6 422.9M700.7 405.3Q702.5 414.1 700.7 422.9M689.6 422.9Q687.8 431.7 689.6 440.5M700.7 422.9Q702.5 431.7 700.7 440.5M689.6 440.5Q687.8 449.3 689.6 458.1M700.7 440.5Q702.5 449.3 700.7 458.1M689.6 458.1Q687.8 466.9 689.6 475.7M700.7 458.1Q702.5 466.9 700.7 475.7M689.6 475.7Q687.8 484.5 689.6 493.3M700.7 475.7Q702.5 484.5 700.7 493.3M689.6 493.3Q687.8 502.1 689.6 510.9M700.7 493.3Q702.5 502.1 700.7 510.9M689.6 510.9Q687.8 519.7 689.6 528.5M700.7 510.9Q702.5 519.7 700.7 528.5M689.6 528.5Q687.8 537.3 689.6 546.1M700.7 528.5Q702.5 537.3 700.7 546.1M689.6 546.1Q687.8 554.9 689.6 563.7M700.7 546.1Q702.5 554.9 700.7 563.7M689.6 563.7Q687.8 572.5 689.6 581.3M700.7 563.7Q702.5 572.5 700.7 581.3M689.6 581.3Q687.8 590.1 689.6 598.9M700.7 581.3Q702.5 590.1 700.7 598.9M689.6 598.9Q687.8 607.7 689.6 616.5M700.7 598.9Q702.5 607.7 700.7 616.5M689.6 616.5Q687.8 625.3 689.6 634.1M700.7 616.5Q702.5 625.3 700.7 634.1M689.6 634.1Q687.8 642.9 689.6 651.7M700.7 634.1Q702.5 642.9 700.7 651.7M689.6 651.7Q687.8 660.5 689.6 669.3M700.7 651.7Q702.5 660.5 700.7 669.3M689.6 669.3Q687.8 678.1 689.6 686.9M700.7 669.3Q702.5 678.1 700.7 686.9M689.6 686.9Q687.8 695.7 689.6 704.5M700.7 686.9Q702.5 695.7 700.7 704.5M689.6 704.5Q687.8 713.3 689.6 722.1M700.7 704.5Q702.5 713.3 700.7 722.1M689.6 722.1Q687.8 730.9 689.6 739.7M700.7 722.1Q702.5 730.9 700.7 739.7M689.6 739.7Q687.8 748.5 689.6 757.3M700.7 739.7Q702.5 748.5 700.7 757.3" stroke-width="1.5"/>
</g>
<line x1="688.2" y1="699.2" x2="702.1" y2="699.2" stroke="#777" stroke-width="1.2"/>
<line x1="688.8" y1="346.5" x2="688.8" y2="699.2" stroke="#000" stroke-width="1"/>
<line x1="701.5" y1="346.5" x2="701.5" y2="699.2" stroke="#000" stroke-width="1"/>
<g clip-path="url(#h14)" fill="none" stroke="#000" stroke-width="1.3">
<path d="M689 703.2V727.5M701.3 703.2V727.5" stroke="#777" stroke-width="1.2"/>
<path d="M689.6 682.92L700.7 700.64M700.7 682.92L689.6 700.64M689.6 700.64L700.7 718.36M700.7 700.64L689.6 718.36M689.6 718.36L700.7 736.08M700.7 718.36L689.6 736.08M689.6 736.08L700.7 753.8M700.7 736.08L689.6 753.8M689.6 753.8L700.7 771.52M700.7 753.8L689.6 771.52M689.6 771.52L700.7 789.24M700.7 771.52L689.6 789.24"/>
<path d="M689.6 682.92Q687.8 691.78 689.6 700.64M700.7 682.92Q702.5 691.78 700.7 700.64M689.6 700.64Q687.8 709.5 689.6 718.36M700.7 700.64Q702.5 709.5 700.7 718.36M689.6 718.36Q687.8 727.22 689.6 736.08M700.7 718.36Q702.5 727.22 700.7 736.08M689.6 736.08Q687.8 744.94 689.6 753.8M700.7 736.08Q702.5 744.94 700.7 753.8M689.6 753.8Q687.8 762.66 689.6 771.52M700.7 753.8Q702.5 762.66 700.7 771.52M689.6 771.52Q687.8 780.38 689.6 789.24M700.7 771.52Q702.5 780.38 700.7 789.24" stroke-width="1.5"/>
</g>
<line x1="688.9" y1="703.2" x2="688.9" y2="727.5" stroke="#000" stroke-width="1.3"/>
<line x1="701.4" y1="703.2" x2="701.4" y2="727.5" stroke="#000" stroke-width="1.3"/>
<line x1="687.5" y1="727.5" x2="702.8" y2="727.5" stroke="#000" stroke-width="1.3"/>
<line x1="687.5" y1="731.4" x2="702.8" y2="731.4" stroke="#000" stroke-width="1.3"/>
<line x1="687.5" y1="735.3" x2="702.8" y2="735.3" stroke="#000" stroke-width="1.3"/>
<path d="M687.8 727.5Q689.2 729.45 687.8 731.4M702.5 727.5Q701.1 729.45 702.5 731.4" fill="none" stroke="#000" stroke-width="1.1"/>
<path d="M687.8 731.4Q689.2 733.35 687.8 735.3M702.5 731.4Q701.1 733.35 702.5 735.3" fill="none" stroke="#000" stroke-width="1.1"/>
<line x1="688.5" y1="735.3" x2="688.5" y2="749.8" stroke="#000" stroke-width="1.3"/>
<line x1="701.8" y1="735.3" x2="701.8" y2="749.8" stroke="#000" stroke-width="1.3"/>
<rect x="692.05" y="737.3" width="6.2" height="11.2" fill="none" stroke="#222" stroke-width="1.1"/>
<rect x="679.6" y="749.9" width="31.1" height="14.2" rx="2.6" fill="#fff" stroke="#000" stroke-width="1.4"/>
<line x1="687.6" y1="750.4" x2="687.6" y2="763.6" stroke="#000" stroke-width="1.3"/>
<line x1="702.8" y1="750.4" x2="702.8" y2="763.6" stroke="#000" stroke-width="1.3"/>
<path d="M662.5 402.5H729.2V405.8Q729.2 406.8 728.2 406.8H663.5Q662.5 406.8 662.5 405.8Z" fill="#fff" stroke="#111" stroke-width="1"/>
<polygon points="663.6,406.9 728,406.9 725.2,409.7 666.2,409.7" fill="#8a8a8a" stroke="#444" stroke-width="0.6"/>
<rect x="702.3" y="409.8" width="16.7" height="3.8" fill="#fff" stroke="#111" stroke-width="0.9"/>
<line x1="702.6" y1="415" x2="718" y2="415" stroke="#444" stroke-width="0.9"/>
<line x1="702.6" y1="417.3" x2="717.6" y2="417.3" stroke="#444" stroke-width="0.9"/>
<line x1="717.2" y1="413.6" x2="717.2" y2="456.3" stroke="#777" stroke-width="1.4"/>
<rect x="702.3" y="456.3" width="16.4" height="21.2" fill="#fff" stroke="#111" stroke-width="1"/>
<line x1="704.6" y1="456.3" x2="704.6" y2="477.5" stroke="#555" stroke-width="0.8"/>
<line x1="714.4" y1="456.3" x2="714.4" y2="477.5" stroke="#111" stroke-width="0.9"/>
<line x1="702" y1="442.3" x2="906.9" y2="442.3" stroke="#111" stroke-width="0.9"/>
<polygon points="696.6,442.3 706.4,440.4 706.4,444.2" fill="#111" stroke="none" stroke-width="0"/>
<polygon points="906.9,442.3 896.9,444.4 896.9,440.2" fill="#111" stroke="none" stroke-width="0"/>
<line x1="906.9" y1="437.5" x2="906.9" y2="445.8" stroke="#111" stroke-width="1"/>
<text class="t" font-size="14.7" font-weight="bold"><tspan x="766.36" y="440.2" textLength="4.76" lengthAdjust="spacingAndGlyphs" stroke-width="1.0">1</tspan><tspan x="771.43" y="440.2" textLength="9.55" lengthAdjust="spacingAndGlyphs" stroke-width="0.4">8</tspan><tspan x="780.83" y="440.2" textLength="9.91" lengthAdjust="spacingAndGlyphs" stroke-width="0.35">0</tspan> <tspan x="800.24" y="440.2" textLength="13.12" lengthAdjust="spacingAndGlyphs" stroke-width="0.5">M</tspan><tspan x="813.02" y="440.2" textLength="11.12" lengthAdjust="spacingAndGlyphs" stroke-width="0.53">A</tspan><tspan x="824.7" y="440.2" textLength="10.44" lengthAdjust="spacingAndGlyphs" stroke-width="0.51">X</tspan></text>
<line x1="862.5" y1="461.3" x2="862.5" y2="493" stroke="#111" stroke-width="0.9"/>
<line x1="951.6" y1="461.3" x2="951.6" y2="493" stroke="#111" stroke-width="0.9"/>
<line x1="862.5" y1="466.5" x2="951.6" y2="466.5" stroke="#111" stroke-width="0.9"/>
<polygon points="862.5,466.5 872.5,464.4 872.5,468.6" fill="#111" stroke="none" stroke-width="0"/>
<polygon points="951.6,466.5 941.6,468.6 941.6,464.4" fill="#111" stroke="none" stroke-width="0"/>
<text class="t" font-size="14.7" font-weight="bold"><tspan x="889.48" y="463.8" textLength="11.63" lengthAdjust="spacingAndGlyphs" font-weight="normal" stroke-width="0" font-size="14.4">&#216;</tspan><tspan x="902.42" y="464.5" textLength="10.16" lengthAdjust="spacingAndGlyphs" stroke-width="0.31">6</tspan><tspan x="912.67" y="464.5" textLength="9.88" lengthAdjust="spacingAndGlyphs" stroke-width="0.35">3</tspan></text>
<line x1="906.9" y1="471.9" x2="906.9" y2="483.1" stroke="#555" stroke-width="1"/>
<line x1="863.2" y1="495.9" x2="950.8" y2="495.9" stroke="#000" stroke-width="3" stroke-linecap="round"/>
<path d="M888 494.6Q907 492.4 926 494.6Z" fill="#000" stroke="#000" stroke-width="0.5"/>
<path d="M868.7 497.3A10.3 13.2 0 0 1 879 510.6" fill="none" stroke="#111" stroke-width="1.1"/>
<path d="M945.3 497.3A10.3 13.2 0 0 0 935 510.6" fill="none" stroke="#111" stroke-width="1.1"/>
<line x1="879" y1="510.75" x2="935" y2="510.75" stroke="#444" stroke-width="1.3"/>
<path d="M879 510.6V521.2H880.2Q880.8 521.4 880.8 522.6V536.6Q880.8 538.2 880.2 538.6H879V544" fill="none" stroke="#111" stroke-width="1.1"/>
<path d="M935 510.6V521.2H933.8Q933.2 521.4 933.2 522.6V536.6Q933.2 538.2 933.8 538.6H935V544" fill="none" stroke="#111" stroke-width="1.1"/>
<rect x="896.6" y="521.3" width="20.9" height="17.2" rx="2.2" fill="none" stroke="#111" stroke-width="1.2"/>
<line x1="902.9" y1="521.6" x2="902.9" y2="538.2" stroke="#000" stroke-width="1.2"/>
<line x1="910.6" y1="521.6" x2="910.6" y2="538.2" stroke="#666" stroke-width="1.4"/>
<line x1="898.2" y1="537.7" x2="915.9" y2="537.7" stroke="#111" stroke-width="1.2"/>
<rect x="862.9" y="544.1" width="88.2" height="8.2" fill="none" stroke="#111" stroke-width="1.1"/>
<rect x="861.6" y="552.3" width="90.8" height="8.9" rx="3.2" fill="none" stroke="#111" stroke-width="1.1"/>
<line x1="862.6" y1="556.5" x2="951.4" y2="556.5" stroke="#444" stroke-width="2"/>
<path d="M864.4 561.6L875.4 566.1H938.6L949.6 561.6" fill="none" stroke="#111" stroke-width="1.1"/>
<line x1="866" y1="563.3" x2="948" y2="563.3" stroke="#444" stroke-width="0.9"/>
<line x1="875.5" y1="566.1" x2="875.5" y2="580.6" stroke="#111" stroke-width="1.2"/>
<line x1="938.5" y1="566.1" x2="938.5" y2="612.2" stroke="#111" stroke-width="1.2"/>
<path d="M876.9 612L874.5 613.94L876.9 615.52L874.5 617.46L876.9 619.04L874.5 620.98L876.9 622.56L874.5 624.5L876.9 626.08L874.5 628.02L876.9 629.6L937.1 629.6L939.5 628.02L937.1 626.08L939.5 624.5L937.1 622.56L939.5 620.98L937.1 619.04L939.5 617.46L937.1 615.52L939.5 613.94L937.1 612Z" fill="#0a0a0a" stroke="#000" stroke-width="0.7" stroke-linejoin="round"/>
<line x1="878.5" y1="615.05" x2="935.5" y2="614.45" stroke="#858585" stroke-width="0.75"/>
<line x1="878.5" y1="618.57" x2="935.5" y2="617.97" stroke="#858585" stroke-width="0.75"/>
<line x1="878.5" y1="622.09" x2="935.5" y2="621.49" stroke="#858585" stroke-width="0.75"/>
<line x1="878.5" y1="625.61" x2="935.5" y2="625.01" stroke="#858585" stroke-width="0.75"/>
<line x1="860.6" y1="581" x2="875.6" y2="581" stroke="#666" stroke-width="1.2"/>
<line x1="860.6" y1="610.7" x2="875.6" y2="610.7" stroke="#111" stroke-width="1.1"/>
<path d="M875.6 580.6Q885 595.9 875.6 611.2Q881.2 595.9 875.6 580.6Z" fill="#555" stroke="#000" stroke-width="0.9"/>
<path d="M842.5 579.5H859.4L860.6 580.7V611.3L859.4 612.5H842.5L841.3 611.3V580.7Z" fill="#fff" stroke="#111" stroke-width="1.2"/>
<line x1="844.1" y1="580" x2="844.1" y2="612" stroke="#000" stroke-width="1.5"/>
<line x1="856.9" y1="580" x2="856.9" y2="612" stroke="#777" stroke-width="1.2"/>
<line x1="860.3" y1="580.7" x2="860.3" y2="611.3" stroke="#777" stroke-width="1.3"/>
<path d="M841.6 592.5H646Q643.6 592.5 643.6 596Q643.6 599.5 646 599.5H841.6" fill="#fff" stroke="#000" stroke-width="1.2"/>
<line x1="645.8" y1="592.8" x2="645.8" y2="599.2" stroke="#555" stroke-width="0.8"/>
<g clip-path="url(#h15)" fill="none" stroke="#000" stroke-width="1.1">
<path d="M689.6 581.3L700.7 598.9M700.7 581.3L689.6 598.9M689.6 598.9L700.7 616.5M700.7 598.9L689.6 616.5M689.6 616.5L700.7 634.1M700.7 616.5L689.6 634.1M689.6 634.1L700.7 651.7M700.7 634.1L689.6 651.7"/>
</g>
<rect x="673.5" y="588.5" width="13.3" height="24.7" rx="1.2" fill="#fff" stroke="#000" stroke-width="1.2"/>
<circle cx="680" cy="605.9" r="5.2" fill="none" stroke="#000" stroke-width="1.5"/>
<line x1="680.4" y1="601" x2="680.4" y2="611" stroke="#777" stroke-width="1.5"/>
<rect x="676.6" y="582.9" width="7.4" height="5.6" fill="#fff" stroke="#000" stroke-width="1.1"/>
<rect x="675.4" y="579.3" width="9.3" height="3.5" fill="#fff" stroke="#000" stroke-width="1.1"/>
<line x1="678.6" y1="579.3" x2="678.6" y2="582.8" stroke="#000" stroke-width="1"/>
<line x1="681.6" y1="579.3" x2="681.6" y2="582.8" stroke="#000" stroke-width="1"/>
<line x1="953.8" y1="495.2" x2="1011.3" y2="495.2" stroke="#333" stroke-width="1"/>
<line x1="953" y1="544.4" x2="1011.3" y2="544.4" stroke="#333" stroke-width="1"/>
<line x1="1006.6" y1="495.2" x2="1006.6" y2="593.6" stroke="#111" stroke-width="1"/>
<polygon points="1006.6,495.2 1008.7,505.2 1004.5,505.2" fill="#111" stroke="none" stroke-width="0"/>
<polygon points="1006.6,544.4 1004.5,534.4 1008.7,534.4" fill="#111" stroke="none" stroke-width="0"/>
<text class="t" transform="translate(1004.5 593.5) rotate(-90)" font-size="14.7" font-weight="bold"><tspan x="-0.41" y="0" textLength="9.8" lengthAdjust="spacingAndGlyphs" stroke-width="0.41" font-size="15.2">3</tspan><tspan x="9.34" y="0" textLength="9.8" lengthAdjust="spacingAndGlyphs" stroke-width="0.41" font-size="15.2">5</tspan><tspan x="19.18" y="0" textLength="5.16" lengthAdjust="spacingAndGlyphs" font-size="15.2">-</tspan><tspan x="24.31" y="0" textLength="9.8" lengthAdjust="spacingAndGlyphs" stroke-width="0.41" font-size="15.2">5</tspan><tspan x="34.01" y="0" textLength="10.25" lengthAdjust="spacingAndGlyphs" stroke-width="0.35" font-size="15.2">0</tspan></text>
<line x1="875.6" y1="629.8" x2="875.6" y2="647.8" stroke="#111" stroke-width="1"/>
<line x1="938.6" y1="629.8" x2="938.6" y2="647.8" stroke="#111" stroke-width="1"/>
<line x1="875.6" y1="642.5" x2="1002" y2="642.5" stroke="#111" stroke-width="0.9"/>
<polygon points="875.6,642.5 885.6,640.4 885.6,644.6" fill="#111" stroke="none" stroke-width="0"/>
<polygon points="938.6,642.5 928.6,644.6 928.6,640.4" fill="#111" stroke="none" stroke-width="0"/>
<text class="t" font-size="14.7" font-weight="bold"><tspan x="948.46" y="640.7" textLength="10.34" lengthAdjust="spacingAndGlyphs" stroke-width="0.69">G</tspan><tspan x="958.58" y="640.7" textLength="5.2" lengthAdjust="spacingAndGlyphs" stroke-width="1.0">1</tspan><tspan x="964.08" y="640.7" textLength="5.46" lengthAdjust="spacingAndGlyphs">-</tspan><tspan x="969.5" y="640.7" textLength="5.2" lengthAdjust="spacingAndGlyphs" stroke-width="1.0">1</tspan><tspan x="975.4" y="640.7" textLength="6.57" lengthAdjust="spacingAndGlyphs">/</tspan><tspan x="982.65" y="640.7" textLength="10.56" lengthAdjust="spacingAndGlyphs">4</tspan><tspan x="993.8" y="637.76" textLength="5.81" lengthAdjust="spacingAndGlyphs" font-size="10.73">&#8243;</tspan></text>
</svg>
</body>
</html>
